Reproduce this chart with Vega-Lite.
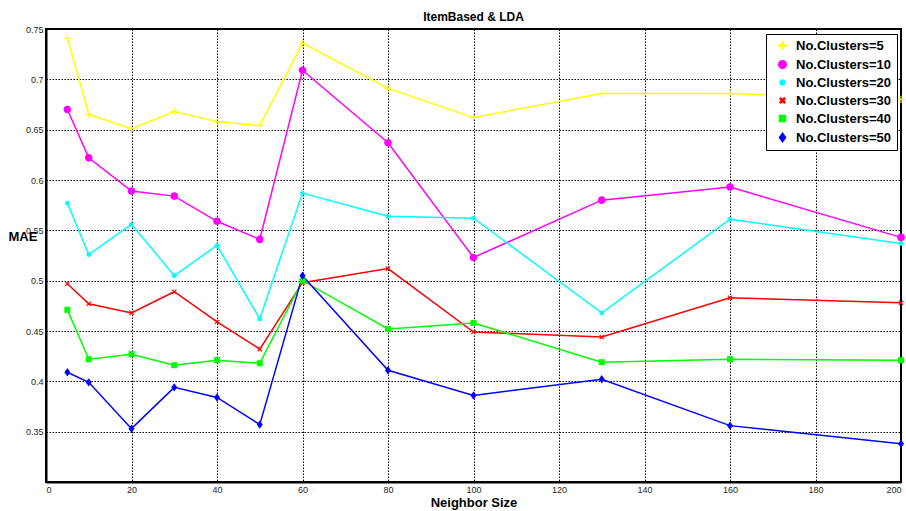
{
  "$schema": "https://vega.github.io/schema/vega-lite/v6.json",
  "width": 855,
  "height": 453,
  "autosize": "none",
  "padding": {"left": 46, "top": 29, "right": 5, "bottom": 29},
  "background": "white",
  "title": {"text": "ItemBased & LDA", "fontSize": 12, "font": "Liberation Sans", "fontWeight": "bold", "offset": 1, "color": "black"},
  "config": {
    "view": {"stroke": "black", "strokeWidth": 2},
    "axis": {
      "grid": true, "gridDash": [1.5, 1.5], "gridColor": "black", "gridOpacity": 1, "gridWidth": 1,
      "ticks": false, "domainColor": "black", "domainWidth": 2,
      "labelFont": "Liberation Sans", "labelFontSize": 9, "labelColor": "#262626",
      "titleFont": "Liberation Sans", "titleFontSize": 13, "titleFontWeight": "bold", "titleColor": "black"
    }
  },
  "data": {"values": [
    {"n": 5, "s": "No.Clusters=5", "mae": 0.741}, {"n": 10, "s": "No.Clusters=5", "mae": 0.665}, {"n": 20, "s": "No.Clusters=5", "mae": 0.651}, {"n": 30, "s": "No.Clusters=5", "mae": 0.668}, {"n": 40, "s": "No.Clusters=5", "mae": 0.658}, {"n": 50, "s": "No.Clusters=5", "mae": 0.654}, {"n": 60, "s": "No.Clusters=5", "mae": 0.736}, {"n": 80, "s": "No.Clusters=5", "mae": 0.691}, {"n": 100, "s": "No.Clusters=5", "mae": 0.662}, {"n": 130, "s": "No.Clusters=5", "mae": 0.686}, {"n": 160, "s": "No.Clusters=5", "mae": 0.686}, {"n": 200, "s": "No.Clusters=5", "mae": 0.680},
    {"n": 5, "s": "No.Clusters=10", "mae": 0.670}, {"n": 10, "s": "No.Clusters=10", "mae": 0.622}, {"n": 20, "s": "No.Clusters=10", "mae": 0.589}, {"n": 30, "s": "No.Clusters=10", "mae": 0.584}, {"n": 40, "s": "No.Clusters=10", "mae": 0.559}, {"n": 50, "s": "No.Clusters=10", "mae": 0.541}, {"n": 60, "s": "No.Clusters=10", "mae": 0.709}, {"n": 80, "s": "No.Clusters=10", "mae": 0.637}, {"n": 100, "s": "No.Clusters=10", "mae": 0.523}, {"n": 130, "s": "No.Clusters=10", "mae": 0.580}, {"n": 160, "s": "No.Clusters=10", "mae": 0.593}, {"n": 200, "s": "No.Clusters=10", "mae": 0.543},
    {"n": 5, "s": "No.Clusters=20", "mae": 0.577}, {"n": 10, "s": "No.Clusters=20", "mae": 0.526}, {"n": 20, "s": "No.Clusters=20", "mae": 0.556}, {"n": 30, "s": "No.Clusters=20", "mae": 0.505}, {"n": 40, "s": "No.Clusters=20", "mae": 0.535}, {"n": 50, "s": "No.Clusters=20", "mae": 0.462}, {"n": 60, "s": "No.Clusters=20", "mae": 0.587}, {"n": 80, "s": "No.Clusters=20", "mae": 0.564}, {"n": 100, "s": "No.Clusters=20", "mae": 0.562}, {"n": 130, "s": "No.Clusters=20", "mae": 0.468}, {"n": 160, "s": "No.Clusters=20", "mae": 0.561}, {"n": 200, "s": "No.Clusters=20", "mae": 0.537},
    {"n": 5, "s": "No.Clusters=30", "mae": 0.497}, {"n": 10, "s": "No.Clusters=30", "mae": 0.477}, {"n": 20, "s": "No.Clusters=30", "mae": 0.468}, {"n": 30, "s": "No.Clusters=30", "mae": 0.489}, {"n": 40, "s": "No.Clusters=30", "mae": 0.459}, {"n": 50, "s": "No.Clusters=30", "mae": 0.432}, {"n": 60, "s": "No.Clusters=30", "mae": 0.498}, {"n": 80, "s": "No.Clusters=30", "mae": 0.512}, {"n": 100, "s": "No.Clusters=30", "mae": 0.449}, {"n": 130, "s": "No.Clusters=30", "mae": 0.444}, {"n": 160, "s": "No.Clusters=30", "mae": 0.483}, {"n": 200, "s": "No.Clusters=30", "mae": 0.478},
    {"n": 5, "s": "No.Clusters=40", "mae": 0.471}, {"n": 10, "s": "No.Clusters=40", "mae": 0.422}, {"n": 20, "s": "No.Clusters=40", "mae": 0.427}, {"n": 30, "s": "No.Clusters=40", "mae": 0.416}, {"n": 40, "s": "No.Clusters=40", "mae": 0.421}, {"n": 50, "s": "No.Clusters=40", "mae": 0.418}, {"n": 60, "s": "No.Clusters=40", "mae": 0.500}, {"n": 80, "s": "No.Clusters=40", "mae": 0.452}, {"n": 100, "s": "No.Clusters=40", "mae": 0.458}, {"n": 130, "s": "No.Clusters=40", "mae": 0.419}, {"n": 160, "s": "No.Clusters=40", "mae": 0.422}, {"n": 200, "s": "No.Clusters=40", "mae": 0.421},
    {"n": 5, "s": "No.Clusters=50", "mae": 0.409}, {"n": 10, "s": "No.Clusters=50", "mae": 0.399}, {"n": 20, "s": "No.Clusters=50", "mae": 0.353}, {"n": 30, "s": "No.Clusters=50", "mae": 0.394}, {"n": 40, "s": "No.Clusters=50", "mae": 0.384}, {"n": 50, "s": "No.Clusters=50", "mae": 0.357}, {"n": 60, "s": "No.Clusters=50", "mae": 0.505}, {"n": 80, "s": "No.Clusters=50", "mae": 0.411}, {"n": 100, "s": "No.Clusters=50", "mae": 0.386}, {"n": 130, "s": "No.Clusters=50", "mae": 0.402}, {"n": 160, "s": "No.Clusters=50", "mae": 0.356}, {"n": 200, "s": "No.Clusters=50", "mae": 0.338}
  ]},
  "encoding": {
    "x": {"field": "n", "type": "quantitative", "scale": {"domain": [0, 200], "nice": false},
      "axis": {"title": "Neighbor Size", "values": [0, 20, 40, 60, 80, 100, 120, 140, 160, 180, 200], "labelPadding": 3, "titlePadding": 2}},
    "y": {"field": "mae", "type": "quantitative", "scale": {"domain": [0.3, 0.75], "nice": false, "zero": false},
      "axis": {"title": "MAE", "values": [0.35, 0.4, 0.45, 0.5, 0.55, 0.6, 0.65, 0.7, 0.75], "format": ".2~f", "labelPadding": 3,
        "titleAngle": 0, "titleAlign": "left", "titleBaseline": "middle", "titleX": -38, "titleY": 207}}
  },
  "layer": [
    {
      "mark": {"type": "line", "strokeWidth": 1.5},
      "encoding": {
        "color": {"field": "s", "type": "nominal"},
        "detail": {"field": "s"}
      }
    },
    {
      "mark": {"type": "point", "filled": true, "size": 64, "opacity": 1},
      "encoding": {
        "color": {"field": "s", "type": "nominal",
          "scale": {"domain": ["No.Clusters=5", "No.Clusters=10", "No.Clusters=20", "No.Clusters=30", "No.Clusters=40", "No.Clusters=50"],
            "range": ["#FFFF00", "#FF00FF", "#00FFFF", "#FF0000", "#00FF00", "#0000FF"]},
          "legend": {
            "orient": "none", "legendX": 720, "legendY": 5, "title": null,
            "fillColor": "white", "strokeColor": "black", "padding": 5,
            "labelFont": "Liberation Sans", "labelFontSize": 13, "labelFontWeight": "bold", "labelColor": "black",
            "symbolOffset": 5, "labelOffset": 7, "rowPadding": 4, "symbolSize": 64
          }
        },
        "shape": {"field": "s", "type": "nominal",
          "scale": {"domain": ["No.Clusters=5", "No.Clusters=10", "No.Clusters=20", "No.Clusters=30", "No.Clusters=40", "No.Clusters=50"],
            "range": [
              "M-0.13,-0.9H0.13V-0.13H0.9V0.13H0.13V0.9H-0.13V0.13H-0.9V-0.13H-0.13Z",
              "M0.95,0A0.95,0.95 0 1,1 -0.95,0A0.95,0.95 0 1,1 0.95,0Z",
              "M0.6,0A0.6,0.6 0 1,1 -0.6,0A0.6,0.6 0 1,1 0.6,0Z",
              "M0.424,-0.636L0.636,-0.424L0.212,0L0.636,0.424L0.424,0.636L0,0.212L-0.424,0.636L-0.636,0.424L-0.212,0L-0.636,-0.424L-0.424,-0.636L0,-0.212Z",
              "M-0.75,-0.75H0.75V0.75H-0.75Z",
              "M0,-1.05L0.75,0L0,1.05L-0.75,0Z"
            ]},
          "legend": null
        }
      }
    }
  ]
}
